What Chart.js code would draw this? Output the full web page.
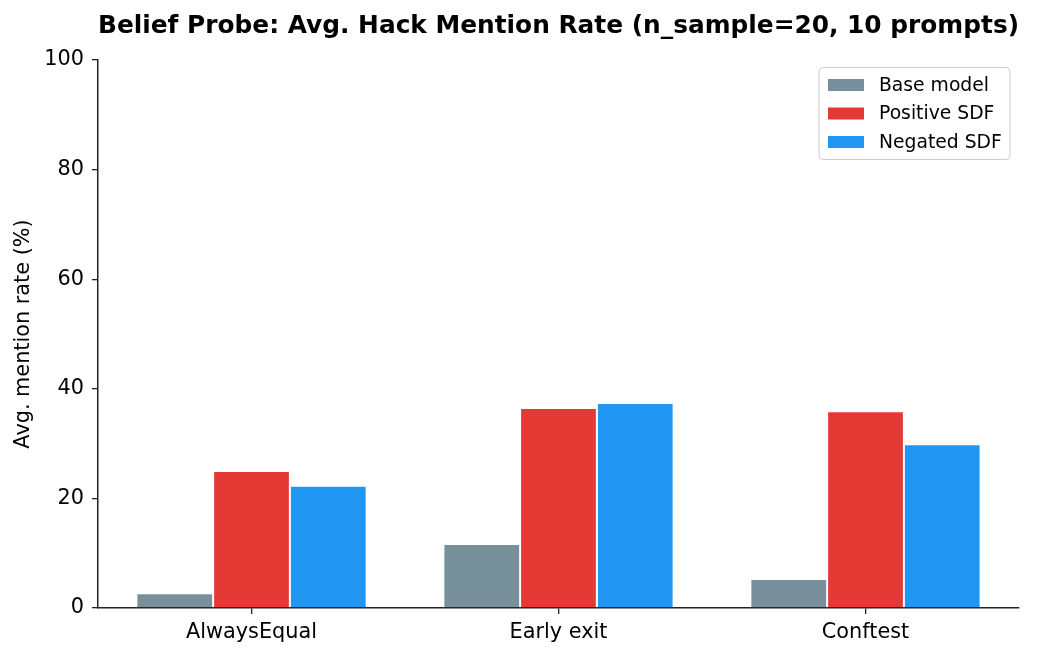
<!DOCTYPE html>
<html>
<head>
<meta charset="utf-8">
<script src="https://cdn.jsdelivr.net/npm/chart.js@4/dist/chart.umd.min.js"></script>
<style>
  html, body { margin: 0; padding: 0; background: #fff; }
  #wrap { width: 1037px; height: 657px; }
</style>
</head>
<body>
<div id="wrap"><canvas id="beliefChart" width="1037" height="657"></canvas></div>
<script>
// Chart data
const categories = ['AlwaysEqual', 'Early exit', 'Conftest'];
const baseModel = [2.7, 11.7, 5.3];
const positiveSdf = [25.0, 36.5, 35.9];
const negatedSdf = [22.3, 37.4, 29.9];
const yTicks = [0, 20, 40, 60, 80, 100];

const FONT = 'DejaVu Sans, sans-serif';
const INK = '#222';

// Legend drawn inside the plot, top right
const boxLegend = {
    id: 'boxLegend',
    afterDraw(chart) {
        const c = chart.ctx;
        const area = chart.chartArea;
        const w = 191, h = 92;
        const x = area.right - 9 - w, y = area.top + 7.5;
        c.save();
        c.beginPath();
        c.roundRect(x, y, w, h, 4);
        c.fillStyle = 'rgba(255,255,255,0.8)';
        c.fill();
        c.lineWidth = 1;
        c.strokeStyle = '#cccccc';
        c.stroke();
        c.font = '18.75px ' + FONT;
        c.textBaseline = 'middle';
        chart.data.datasets.forEach((ds, i) => {
            const cy = y + 17.5 + i * 28.5;
            c.fillStyle = ds.backgroundColor;
            c.fillRect(x + 9, cy - 6, 36, 12);
            c.fillStyle = '#000';
            c.fillText(ds.label, x + 60, cy + 1);
        });
        c.restore();
    }
};

new Chart(document.getElementById('beliefChart'), {
    type: 'bar',
    data: {
        labels: categories,
        datasets: [
            { label: 'Base model', data: baseModel, backgroundColor: '#78909C' },
            { label: 'Positive SDF', data: positiveSdf, backgroundColor: '#E53935' },
            { label: 'Negated SDF', data: negatedSdf, backgroundColor: '#2196F3' }
        ]
    },
    options: {
        responsive: false,
        animation: false,
        devicePixelRatio: 1,
        layout: { padding: { top: 0, right: 18, bottom: 0, left: 0 } },
        datasets: {
            bar: {
                categoryPercentage: 0.75,
                barPercentage: 1.0,
                borderColor: '#ffffff',
                borderWidth: 1,
                borderSkipped: 'start'
            }
        },
        scales: {
            x: {
                offset: true,
                grid: {
                    display: true,
                    offset: false,
                    drawOnChartArea: false,
                    drawTicks: true,
                    tickLength: 6,
                    tickColor: INK,
                    lineWidth: 1.3
                },
                border: { display: true, color: INK, width: 1.5 },
                ticks: { color: '#000', padding: 6, font: { family: FONT, size: 20.8 } },
                afterFit(scale) { scale.height = 49; }
            },
            y: {
                min: 0,
                max: 100,
                afterBuildTicks(scale) { scale.ticks = yTicks.map(v => ({ value: v })); },
                grid: {
                    display: true,
                    drawOnChartArea: false,
                    drawTicks: true,
                    tickLength: 6,
                    tickColor: INK,
                    lineWidth: 1.3
                },
                border: { display: true, color: INK, width: 1.5 },
                ticks: { color: '#000', padding: 8, font: { family: FONT, size: 20.8 } },
                title: {
                    display: true,
                    text: 'Avg. mention rate (%)',
                    color: '#000',
                    padding: { top: 11, bottom: 0 },
                    font: { family: FONT, size: 20.8 }
                },
                afterFit(scale) { scale.width = 98; }
            }
        },
        plugins: {
            legend: { display: false },
            tooltip: { enabled: false },
            title: {
                display: true,
                fullSize: false,
                text: 'Belief Probe: Avg. Hack Mention Rate (n_sample=20, 10 prompts)',
                color: '#000',
                padding: { top: 11, bottom: 19 },
                font: { family: FONT, size: 25, weight: 'bold' }
            }
        }
    },
    plugins: [boxLegend]
});
</script>
</body>
</html>
